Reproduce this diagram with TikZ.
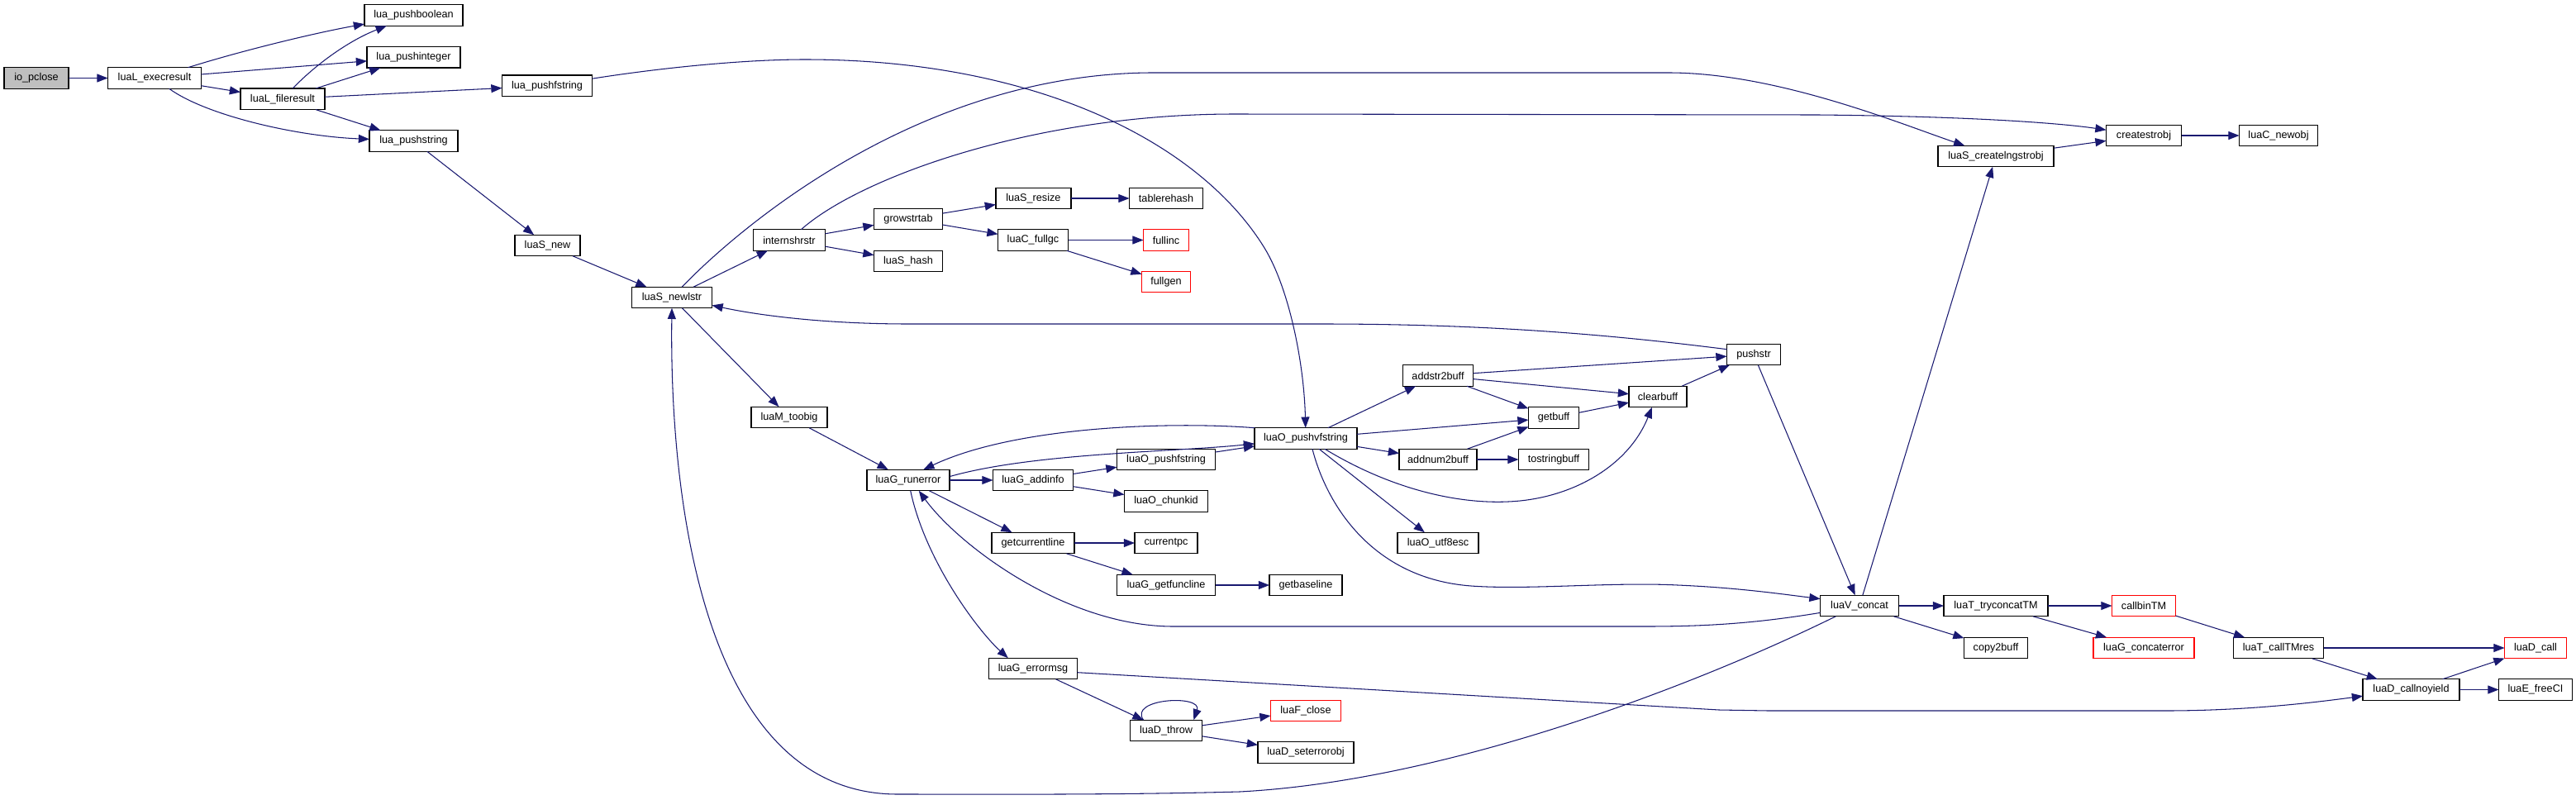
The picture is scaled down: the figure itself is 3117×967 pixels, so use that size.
\documentclass[tikz,border=0pt]{standalone}
\usepackage{fontspec}
\setmainfont{Liberation Sans}
\usetikzlibrary{arrows.meta}
\definecolor{edgeblue}{HTML}{191970}
\definecolor{nodegrey}{HTML}{BFBFBF}
\begin{document}
\begin{tikzpicture}[x=0.02cm,y=-0.02cm,
  nd/.style={draw=black, line width=0.7pt, fill=white, minimum height=0.512cm,
    inner sep=0pt, outer sep=0pt, font=\fontsize{7.2}{8.6}\selectfont, text=black},
  rednd/.style={nd, draw=red},
  callarrow/.style={draw=edgeblue, line width=0.6pt, -{Triangle[length=7.5pt,width=5.7pt]}}]
\fill[white] (0,0) rectangle (3117,967);
\useasboundingbox (0,0) rectangle (3117,967);
% nodes
\node[nd, fill=nodegrey, minimum width=1.56cm] (io) at (44,94.5) {io\_pclose};
\node[nd, minimum width=2.26cm] (exec) at (187,94.5) {luaL\_execresult};
\node[nd, minimum width=2.38cm] (pb) at (500.5,18.5) {lua\_pushboolean};
\node[nd, minimum width=2.26cm] (pi) at (500.5,69.3) {lua\_pushinteger};
\node[nd, minimum width=2.04cm] (fr) at (342,119.8) {luaL\_fileresult};
\node[nd, minimum width=2.18cm] (pf) at (662,103.8) {lua\_pushfstring};
\node[nd, minimum width=2.14cm] (ps) at (500.5,170.5) {lua\_pushstring};
\node[nd, minimum width=1.58cm] (snew) at (662.5,297) {luaS\_new};
\node[nd, minimum width=1.94cm] (newlstr) at (813,360) {luaS\_newlstr};
\node[nd, minimum width=1.74cm] (intern) at (955,290.5) {internshrstr};
\node[nd, minimum width=1.66cm] (grow) at (1099,265) {growstrtab};
\node[nd, minimum width=1.66cm] (shash) at (1099,316) {luaS\_hash};
\node[nd, minimum width=1.82cm] (resize) at (1250.4,240) {luaS\_resize};
\node[nd, minimum width=1.70cm] (fullgc) at (1250,290.5) {luaC\_fullgc};
\node[nd, minimum width=1.78cm] (rehash) at (1411,240) {tablerehash};
\node[rednd, minimum width=1.10cm] (fullinc) at (1411,290.5) {fullinc};
\node[rednd, minimum width=1.18cm] (fullgen) at (1411,341) {fullgen};
\node[nd, minimum width=2.80cm] (lngstr) at (2415,189) {luaS\_createlngstrobj};
\node[nd, minimum width=1.82cm] (cso) at (2594,164) {createstrobj};
\node[nd, minimum width=1.90cm] (newobj) at (2757,164) {luaC\_newobj};
\node[nd, minimum width=1.30cm] (pushstr) at (2122,429) {pushstr};
\node[nd, minimum width=1.70cm] (addstr) at (1740,454.5) {addstr2buff};
\node[nd, minimum width=1.40cm] (clearbuff) at (2006,480) {clearbuff};
\node[nd, minimum width=1.22cm] (getbuff) at (1880,505.5) {getbuff};
\node[nd, minimum width=2.48cm] (pvf) at (1580,530.5) {luaO\_pushvfstring};
\node[nd, minimum width=1.88cm] (addnum) at (1740,556) {addnum2buff};
\node[nd, minimum width=1.70cm] (tostr) at (1880,556) {tostringbuff};
\node[nd, minimum width=1.96cm] (utf) at (1740,657) {luaO\_utf8esc};
\node[nd, minimum width=1.84cm] (toobig) at (955,505) {luaM\_toobig};
\node[nd, minimum width=2.00cm] (runerror) at (1099,581) {luaG\_runerror};
\node[nd, minimum width=2.38cm] (opf) at (1411,556) {luaO\_pushfstring};
\node[nd, minimum width=1.94cm] (addinfo) at (1250,581) {luaG\_addinfo};
\node[nd, minimum width=2.02cm] (chunkid) at (1411,606.5) {luaO\_chunkid};
\node[nd, minimum width=2.00cm] (getcur) at (1250,657) {getcurrentline};
\node[nd, minimum width=1.52cm] (curpc) at (1411,657) {currentpc};
\node[nd, minimum width=2.38cm] (gfl) at (1411,708) {luaG\_getfuncline};
\node[nd, minimum width=1.76cm] (gbl) at (1580,708) {getbaseline};
\node[nd, minimum width=2.14cm] (errormsg) at (1250,809) {luaG\_errormsg};
\node[nd, minimum width=1.74cm] (throw) at (1411,884) {luaD\_throw};
\node[rednd, minimum width=1.70cm] (fclose) at (1580,860) {luaF\_close};
\node[nd, minimum width=2.32cm] (seterr) at (1580,910.5) {luaD\_seterrorobj};
\node[nd, minimum width=1.90cm] (lvc) at (2250,733) {luaV\_concat};
\node[nd, minimum width=2.52cm] (tryc) at (2415,733) {luaT\_tryconcatTM};
\node[rednd, minimum width=1.54cm] (callbin) at (2594,733) {callbinTM};
\node[nd, minimum width=1.54cm] (copy) at (2415,784) {copy2buff};
\node[rednd, minimum width=2.44cm] (cerr) at (2594,784) {luaG\_concaterror};
\node[nd, minimum width=2.18cm] (tmres) at (2757,784) {luaT\_callTMres};
\node[rednd, minimum width=1.50cm] (dcall) at (3068,784) {luaD\_call};
\node[nd, minimum width=2.34cm] (cny) at (2917.5,834.5) {luaD\_callnoyield};
\node[nd, minimum width=1.78cm] (freeci) at (3068,834.5) {luaE\_freeCI};
% edges
\draw[callarrow] (io) -- (exec);
\draw[callarrow] (exec) .. controls (290,62) and (380,40) .. (pb);
\draw[callarrow] (exec) -- (pi);
\draw[callarrow] (exec) -- (fr);
\draw[callarrow] (exec) .. controls (250,140) and (360,165) .. (ps);
\draw[callarrow] (fr) .. controls (380,80) and (420,50) .. (pb);
\draw[callarrow] (fr) -- (pi);
\draw[callarrow] (fr) -- (pf);
\draw[callarrow] (fr) -- (ps);
\draw[callarrow] (pf) .. controls (800,82) and (900,72) .. (974,72) .. controls (1250,72) and (1450,170) .. (1530,300) .. controls (1560,349) and (1578,440) .. (pvf);
\draw[callarrow] (ps) -- (snew);
\draw[callarrow] (snew) -- (newlstr);
\draw[callarrow] (newlstr) -- (intern);
\draw[callarrow] (newlstr) .. controls (880,290) and (1100,90) .. (1392,88) -- (2019,88) .. controls (2150,88) and (2300,150) .. (lngstr);
\draw[callarrow] (newlstr) -- (toobig);
\draw[callarrow] (intern) -- (grow);
\draw[callarrow] (intern) -- (shash);
\draw[callarrow] (intern) .. controls (1040,215) and (1250,138) .. (1494,138) -- (2200,139) .. controls (2400,141) and (2500,150) .. (cso);
\draw[callarrow] (grow) -- (resize);
\draw[callarrow] (grow) -- (fullgc);
\draw[callarrow] (resize) -- (rehash);
\draw[callarrow] (fullgc) -- (fullinc);
\draw[callarrow] (fullgc) -- (fullgen);
\draw[callarrow] (lngstr) -- (cso);
\draw[callarrow] (cso) -- (newobj);
\draw[callarrow] (toobig) -- (runerror);
\draw[callarrow] (runerror) -- (addinfo);
\draw[callarrow] (runerror.5) .. controls (1250,548) and (1420,547) .. (pvf);
\draw[callarrow] (pvf.north west) .. controls (1420,510) and (1230,515) .. (runerror.35);
\draw[callarrow] (runerror) -- (getcur);
\draw[callarrow] (runerror) .. controls (1120,680) and (1185,765) .. (errormsg.157);
\draw[callarrow] (addinfo) -- (opf);
\draw[callarrow] (addinfo) -- (chunkid);
\draw[callarrow] (opf) -- (pvf);
\draw[callarrow] (getcur) -- (curpc);
\draw[callarrow] (getcur) -- (gfl);
\draw[callarrow] (gfl) -- (gbl);
\draw[callarrow] (errormsg) -- (throw);
\draw[callarrow] (errormsg.-5) -- (2080,859) .. controls (2110,860) .. (2140,860) -- (2620,860) .. controls (2720,860) and (2800,850) .. (cny);
\draw[callarrow] (throw.155) .. controls (1365,845) and (1455,840) .. (throw.21);
\draw[callarrow] (throw) -- (fclose);
\draw[callarrow] (throw) -- (seterr);
\draw[callarrow] (pvf) -- (addstr);
\draw[callarrow] (pvf) -- (getbuff);
\draw[callarrow] (pvf) -- (addnum);
\draw[callarrow] (pvf.-29) .. controls (1680,590) and (1760,610) .. (1825,607) .. controls (1900,604) and (1970,565) .. (clearbuff.-119);
\draw[callarrow] (pvf) -- (utf);
\draw[callarrow] (pvf.-58) .. controls (1605,610) and (1660,700) .. (1780,709) .. controls (1850,714) and (1950,704) .. (2030,708) .. controls (2100,711) and (2150,718) .. (lvc.170);
\draw[callarrow] (addstr) -- (pushstr);
\draw[callarrow] (addstr) -- (getbuff);
\draw[callarrow] (addstr) -- (clearbuff);
\draw[callarrow] (getbuff) -- (clearbuff);
\draw[callarrow] (addnum) -- (getbuff);
\draw[callarrow] (addnum) -- (tostr);
\draw[callarrow] (clearbuff) -- (pushstr);
\draw[callarrow] (pushstr.169) .. controls (1950,405) and (1800,392) .. (1600,392) -- (1100,392) .. controls (1000,392) and (920,382) .. (newlstr.-11);
\draw[callarrow] (pushstr) -- (lvc);
\draw[callarrow] (lvc) -- (lngstr);
\draw[callarrow] (lvc.190) .. controls (2120,755) and (2060,758) .. (1990,758) -- (1420,758) .. controls (1290,758) and (1160,660) .. (runerror.-45);
\draw[callarrow] (lvc.-156) .. controls (2050,830) and (1750,945) .. (1500,958) .. controls (1350,962) and (1200,961) .. (1086,961) .. controls (850,961) and (810,600) .. (newlstr.south);
\draw[callarrow] (lvc) -- (tryc);
\draw[callarrow] (lvc) -- (copy);
\draw[callarrow] (tryc) -- (callbin);
\draw[callarrow] (tryc) -- (cerr);
\draw[callarrow] (callbin) -- (tmres);
\draw[callarrow] (tmres) -- (dcall);
\draw[callarrow] (tmres) -- (cny);
\draw[callarrow] (cny) -- (dcall);
\draw[callarrow] (cny) -- (freeci);
\end{tikzpicture}
\end{document}
